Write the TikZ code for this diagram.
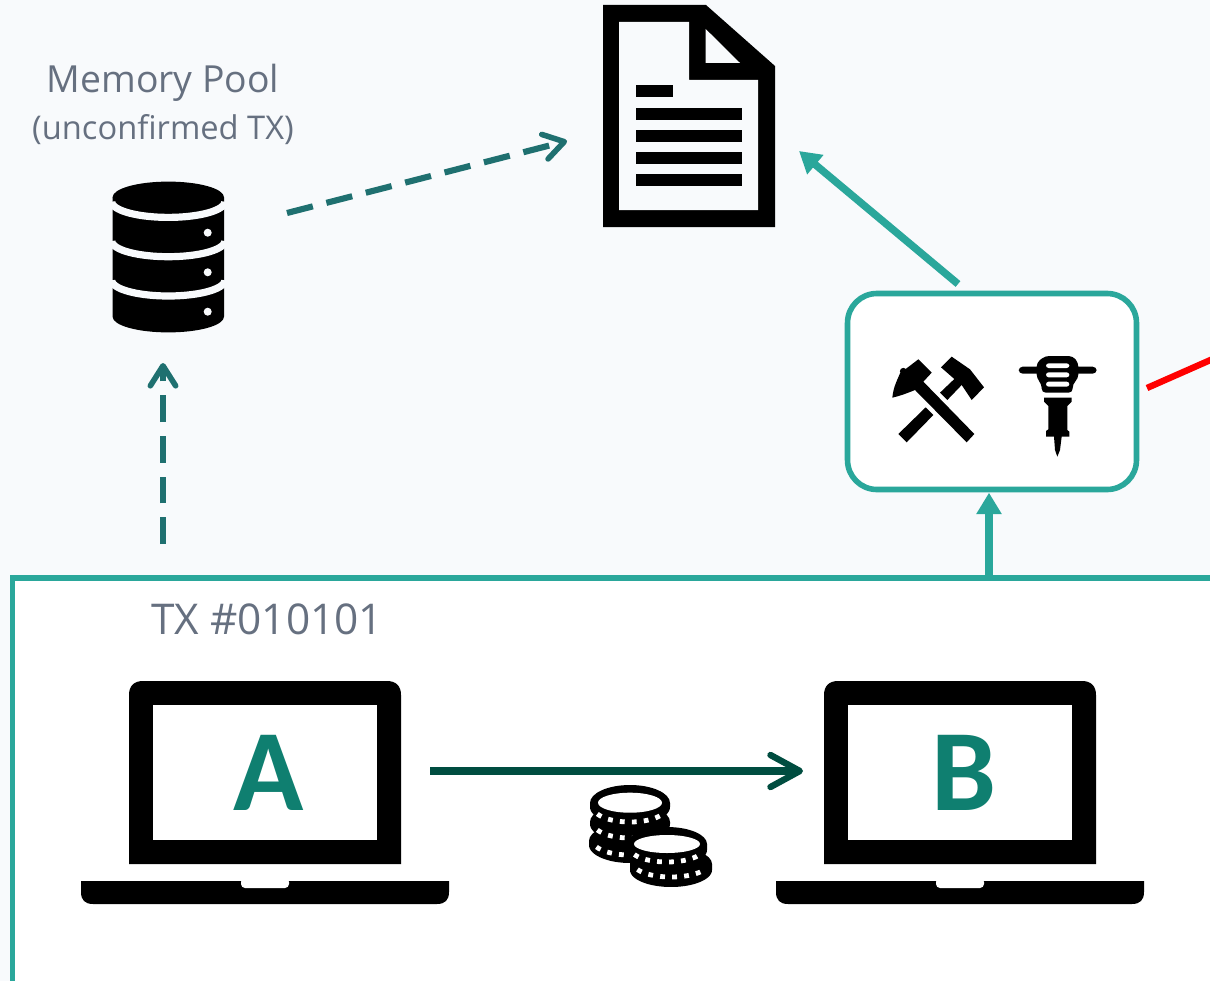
\documentclass[tikz,border=0pt]{standalone}
\usepackage{fontspec}
\setmainfont{Open Sans}
\newfontfamily\capsfont{Carlito}
\usetikzlibrary{arrows.meta}
\definecolor{bgc}{HTML}{F8FAFC}
\definecolor{tealc}{HTML}{2AA79B}
\definecolor{dashc}{HTML}{1F7070}
\definecolor{darkc}{HTML}{004D40}
\definecolor{textc}{HTML}{667080}
\definecolor{letterc}{HTML}{0F7F70}
\tikzset{
  dashflow/.style={line width=4.6pt,color=dashc,dash pattern=on 20pt off 10.5pt,-{Straight Barb[round,length=15pt,width=19pt,line width=4.2pt]}},
  tealflow/.style={line width=5.6pt,color=tealc,-{Triangle[length=16pt,width=18pt]}},
  txflow/.style={line width=5.6pt,color=darkc,-{Straight Barb[round,length=22pt,width=24pt,line width=4.8pt]}},
  lbl/.style={text=textc,inner sep=0pt,align=center},
  letter/.style={text=letterc,inner sep=0pt,font=\capsfont\bfseries\fontsize{87}{87}\selectfont},
}
\newcommand{\laptopicon}[1]{%
  \begin{scope}[xshift=#1*0.75pt]
  \fill (129,864) -- (129,695) .. controls (129,686) and (134,681) .. (143,681) -- (387,681) .. controls (396,681) and (401,686) .. (401,695) -- (401,864) -- cycle;
  \fill[white] (153,705) rectangle (377,840);
  \fill (81,881) -- (81,892) .. controls (81,900) and (85,904) .. (93,904) -- (437,904) .. controls (445,904) and (449,900) .. (449,892) -- (449,881) -- cycle;
  \fill[white,rounded corners=3pt] (241,878) -- (241,888) -- (289,888) -- (289,878) -- cycle;
  \end{scope}}
% cx cy rx ry bodyheight rowoffset
\newcommand{\coinicon}[6]{%
  \fill (#1-#3,#2) -- plot[domain=180:0,samples=30] ({#1+#3*cos(\x)},{#2+#5+#4*sin(\x)}) -- (#1+#3,#2) -- cycle;
  \fill (#1,#2) ellipse ({#3*0.75pt} and {#4*0.75pt});
  \draw[white,line width=3.6pt,dash pattern=on 3.6pt off 5.4pt] plot[domain=155:25,samples=30] ({#1+(#3-4)*cos(\x)},{#2+#6+(#4-4)*sin(\x)});}
\newcommand{\coinface}[4]{\fill[white] (#1,#2) ellipse ({#3*0.75pt} and {#4*0.75pt});}
\begin{document}
\begin{tikzpicture}[x=0.75pt,y=-0.75pt]
\useasboundingbox (0,0) rectangle (1210,981);
\clip (0,0) rectangle (1210,981);
\fill[bgc] (0,0) rectangle (1210,981);

% panel
\node[draw=tealc,fill=white,line width=4.2pt,outer sep=0pt,minimum width=1300*0.75pt,minimum height=500*0.75pt,inner sep=0pt,anchor=north west] (txpanel) at (12.5,578) {};

% labels
\node[lbl,font=\fontsize{28}{32}\selectfont] (poolname) at (163,83) {Memory Pool};
\node[lbl,font=\fontsize{24.5}{28}\selectfont] (poolnote) at (163,130) {(unconfirmed TX)};
\node[lbl,font=\fontsize{31.8}{36}\selectfont,anchor=west] (txid) at (151,619) {TX \#010101};

% database icon
\node[inner sep=0pt,minimum width=84pt,minimum height=113pt] (pool) at (168.3,256.5) {};
\fill (112.6,197.3) -- (112.6,316.7) .. controls (112.6,325.4) and (137.5,332.4) .. (168.3,332.4) .. controls (199.1,332.4) and (224,325.4) .. (224,316.7) -- (224,197.3) -- cycle;
\fill (168.3,197.3) ellipse ({55.7*0.75pt} and {15.7*0.75pt});
\foreach \yy in {201.7,241,280.3}{
  \draw[bgc,line width=5.4pt] plot[domain=180:0,samples=40] ({168.3+56.5*cos(\x)},{\yy+15.7*sin(\x)});
}
\foreach \yy in {232.7,272.3,311.7}{
  \fill[bgc] (207.7,\yy) circle (3pt);
}

% document icon
\node[inner sep=0pt,minimum width=129pt,minimum height=166.5pt] (doc) at (689,116) {};
\fill (603,5) -- (706,5) -- (775,66) -- (775,227) -- (603,227) -- cycle;
\fill[bgc] (619,22) -- (689,22) -- (689,80) -- (758,80) -- (758,210) -- (619,210) -- cycle;
\fill[bgc] (705.7,29) -- (740,63) -- (705.7,63) -- cycle;
\fill (636,85) rectangle (673,97);
\foreach \yy in {108,130,152,174}{
  \fill (636,\yy) rectangle (742,\yy+12);
}

% miner box
\node[draw=tealc,fill=white,line width=4.2pt,outer sep=0pt,rounded corners=22pt,minimum width=216.7pt,minimum height=147pt,inner sep=0pt] (miner) at (992,391.5) {};
% crossed hammers
\begin{scope}[shift={(860,330)},x=0.25pt,y=-0.25pt]
\fill (97,203) .. controls (100,170) and (112,150) .. (120,130) -- (175,88) -- (215,128) -- (190,155) -- (343,312) -- (320,337) -- (165,180) .. controls (140,190) and (120,198) .. (97,203) -- cycle;
\fill (130,124) circle (2.6pt);
\fill (243,112) -- (275,80) -- (330,118) -- (372,172) -- (335,210) -- (305,165) -- (262,210) -- (240,188) -- (283,147) -- cycle;
\fill (197,232) -- (220,255) -- (140,337) -- (115,312) -- cycle;
% jackhammer
\fill[rounded corners=3pt] (476,110) rectangle (710,131);
\fill[rounded corners=3pt] (555,78) -- (638,78) -- (655,98) -- (655,145) -- (638,162) -- (638,188) -- (545,188) -- (545,162) -- (530,145) -- (530,98) -- cycle;
\fill[white,rounded corners=2pt] (558,100) rectangle (628,114);
\fill[white,rounded corners=2pt] (558,127) rectangle (628,142);
\fill[white,rounded corners=2pt] (558,155) rectangle (628,170);
\fill (552,203) -- (635,203) -- (635,215) -- (622,228) -- (622,300) -- (628,305) -- (628,320) -- (605,320) -- (600,360) -- (592,380) -- (585,360) -- (582,320) -- (558,320) -- (558,303) -- (565,298) -- (565,228) -- (552,215) -- cycle;
\end{scope}

% laptops
\laptopicon{0}
\laptopicon{695}
\node[letter] (letA) at (269,772.5) {A};
\node[letter] (letB) at (964,772.5) {B};
\node[inner sep=0pt,minimum width=276pt,minimum height=167pt] (lapA) at (265,792.5) {};
\node[inner sep=0pt,minimum width=276pt,minimum height=167pt] (lapB) at (960,792.5) {};

% coins
\node[inner sep=0pt,minimum width=92pt,minimum height=78pt] (coins) at (650,837) {};
\coinicon{630}{841}{41}{18}{4}{0}
\coinicon{630}{822}{40}{18}{2}{2}
\coinicon{630}{803}{40}{18}{4}{5}
\coinface{630}{802.7}{32}{10}
\coinicon{671}{864}{41}{17}{6}{0}
\coinicon{667}{844}{40}{17}{6}{5}
\coinface{667}{844}{33}{9}

% connector ends
\coordinate (poolIn) at (163,363);
\coordinate (panelUp) at (163,544);
\coordinate (poolOut) at (287,213);
\coordinate (docDash) at (567,141);
\coordinate (minerTop) at (958,284);
\coordinate (docTeal) at (799,151);
\coordinate (panelMiner) at (989,578);
\coordinate (minerIn) at (989,492.7);
\coordinate (lapOut) at (430,771);
\coordinate (lapIn) at (803,771);
\coordinate (redStart) at (1147,388);
\coordinate (redEnd) at (1215,358);

\draw[dashflow] (panelUp) -- (poolIn);
\draw[dashflow] (poolOut) -- (docDash);
\draw[tealflow] (minerTop) -- (docTeal);
\draw[tealflow] (panelMiner) -- (minerIn);
\draw[txflow] (lapOut) -- (lapIn);
\draw[red,line width=4.8pt] (redStart) -- (redEnd);
\end{tikzpicture}
\end{document}
